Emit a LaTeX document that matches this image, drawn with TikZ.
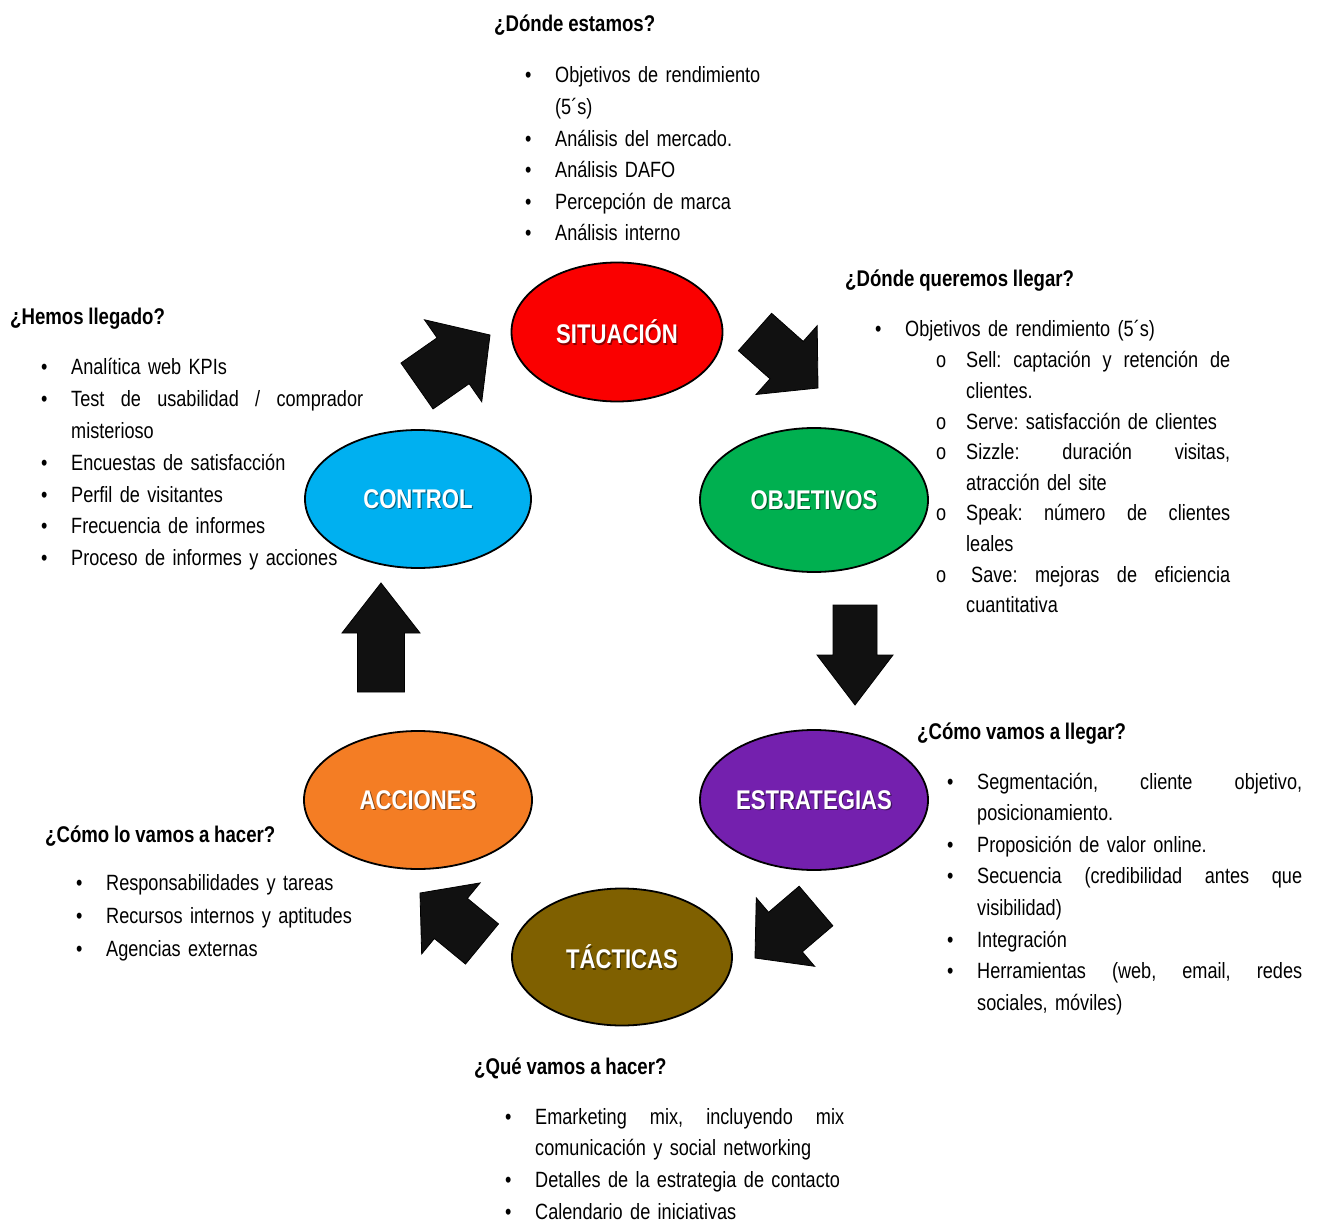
\documentclass[tikz,border=0pt]{standalone}
\usepackage{fontspec}
\setmainfont{Liberation Sans}[FakeStretch=0.82]
\usetikzlibrary{calc,shapes.geometric}
\frenchspacing
\definecolor{cred}{HTML}{FA0000}
\definecolor{cgreen}{HTML}{00B050}
\definecolor{cblue}{HTML}{00B0F0}
\definecolor{corange}{HTML}{F47D24}
\definecolor{cpurple}{HTML}{7420AE}
\definecolor{cbrown}{HTML}{7F6000}
\definecolor{cblk}{HTML}{111111}
\newcommand\bu{\leavevmode\llap{\makebox[30pt][l]{•}}}
\newcommand\so{\leavevmode\llap{\makebox[30pt][l]{o}}}
\newcommand\jl[2]{\leavevmode\hbox to #1{\spaceskip=0.2em plus 1fil\relax\xspaceskip=\spaceskip #2}}
\newcommand\tightsp{\spaceskip=0.21em plus 0.1em minus 0.05em\relax\xspaceskip=\spaceskip}
\newcommand\lstfont[1]{\fontsize{22.1}{#1}\selectfont\frenchspacing\tightsp}
\newcommand\ttlfont{\bfseries\fontsize{22.7}{28}\selectfont\tightsp}
\newcommand\blockarrow[6]{%
  \coordinate (#1-t) at #2; \coordinate (#1-h) at #3;
  \coordinate (#1-b) at ($(#1-h)!#6!(#1-t)$);
  \filldraw[blk] ($(#1-t)!#4!90:(#1-h)$) -- ($(#1-b)!#4!-90:(#1-t)$) -- ($(#1-b)!#5!-90:(#1-t)$) -- (#1-h)
    -- ($(#1-b)!#5!90:(#1-t)$) -- ($(#1-b)!#4!90:(#1-t)$) -- ($(#1-t)!#4!-90:(#1-h)$) -- cycle;
}
\tikzset{
  stage/.style={ellipse, draw=black, line width=1.8pt, inner sep=0pt},
  lbl/.style={font=\bfseries\fontsize{27}{30}\selectfont, text=white, inner sep=0pt},
  lblsh/.style={font=\bfseries\fontsize{27}{30}\selectfont, text=black, opacity=0.45, inner sep=0pt},
  ttl/.style={anchor=base west, inner sep=0pt, font=\ttlfont},
  lst/.style={anchor=base west, align=left, text width=400pt, inner sep=0pt, font=\lstfont{#1}},
  blk/.style={fill=cblk, draw=black, line width=0.8pt, line join=miter}
}
\begin{document}
\begin{tikzpicture}[x=1pt,y=-1pt]
\useasboundingbox[fill=white] (0,0) rectangle (1317,1222);
% stages
\node[stage, fill=cred, minimum width=211pt, minimum height=139pt] (sit) at (617,332) {};
\node[stage, fill=cgreen, minimum width=228pt, minimum height=144pt] (obj) at (814,500) {};
\node[stage, fill=cblue, minimum width=226pt, minimum height=138pt] (ctrl) at (418,499) {};
\node[stage, fill=corange, minimum width=228pt, minimum height=138pt] (acc) at (418,800) {};
\node[stage, fill=cpurple, minimum width=228pt, minimum height=140pt] (est) at (814,800) {};
\node[stage, fill=cbrown, minimum width=220pt, minimum height=137pt] (tac) at (622,957) {};
% labels
\foreach \n/\t in {sit/SITUACIÓN, obj/OBJETIVOS, ctrl/CONTROL, acc/ACCIONES, est/ESTRATEGIAS, tac/TÁCTICAS}{
  \node[lblsh] (\n-sh) at ($(\n.center)+(1.2,1.2)$) {\t};
  \node[lbl] (\n-lb) at (\n.center) {\t};
}
% block arrows
\blockarrow{a1}{(755,332)}{(818,388)}{25pt}{46pt}{42pt}
\blockarrow{a2}{(855,605)}{(855,705)}{22pt}{38pt}{50pt}
\blockarrow{a3}{(816,906)}{(755,958)}{26pt}{45pt}{40pt}
\blockarrow{a4}{(482,944)}{(420,893)}{26pt}{46pt}{40pt}
\blockarrow{a5}{(381,692)}{(381,583)}{23.5pt}{39pt}{50pt}
\blockarrow{a6}{(417,386)}{(490,335)}{28pt}{50pt}{45pt}
% titles
\node[ttl] (t-sit) at (494,32) {¿Dónde estamos?};
\node[ttl] (t-obj) at (845,287) {¿Dónde queremos llegar?};
\node[ttl] (t-ctrl) at (10,325) {¿Hemos llegado?};
\node[ttl] (t-est) at (917,739) {¿Cómo vamos a llegar?};
\node[ttl] (t-acc) at (45,842) {¿Cómo lo vamos a hacer?};
\node[ttl] (t-tac) at (474,1074) {¿Qué vamos a hacer?};
% lists
\node[lst=31.6] (l-sit) at (555,83) {\bu Objetivos de rendimiento\\(5´s)\\\bu Análisis del mercado.\\\bu Análisis DAFO\\\bu Percepción de marca\\\bu Análisis interno};
\node[lst=30.6] (l-obj1) at (905,337) {\bu Objetivos de rendimiento (5´s)};
\node[lst=30.6] (l-obj2) at (966,368) {\so\jl{264pt}{Sell: captación y retención de}\\clientes.\\\so Serve: satisfacción de clientes\\\so\jl{264pt}{Sizzle: duración visitas,}\\atracción del site\\\so\jl{264pt}{Speak: número de clientes}\\leales\\\so\jl{264pt}{\hspace*{5pt}Save: mejoras de eficiencia}\\cuantitativa};
\node[lst=31.8] (l-ctrl) at (71,375) {\bu Analítica web KPIs\\\bu\jl{292pt}{Test de usabilidad / comprador}\\misterioso\\\bu Encuestas de satisfacción\\\bu Perfil de visitantes\\\bu Frecuencia de informes\\\bu Proceso de informes y acciones};
\node[lst=31.6] (l-est) at (977,789) {\bu\jl{325pt}{Segmentación, cliente objetivo,}\\posicionamiento.\\\bu Proposición de valor online.\\\bu\jl{325pt}{Secuencia (credibilidad antes que}\\visibilidad)\\\bu Integración\\\bu\jl{325pt}{Herramientas (web, email, redes}\\sociales, móviles)};
\node[lst=33] (l-acc) at (106,890) {\bu Responsabilidades y tareas\\\bu Recursos internos y aptitudes\\\bu Agencias externas};
\node[lst=31.7] (l-tac) at (535,1124) {\bu\jl{309pt}{Emarketing mix, incluyendo mix}\\comunicación y social networking\\\bu Detalles de la estrategia de contacto\\\bu Calendario de iniciativas};
\end{tikzpicture}
\end{document}
